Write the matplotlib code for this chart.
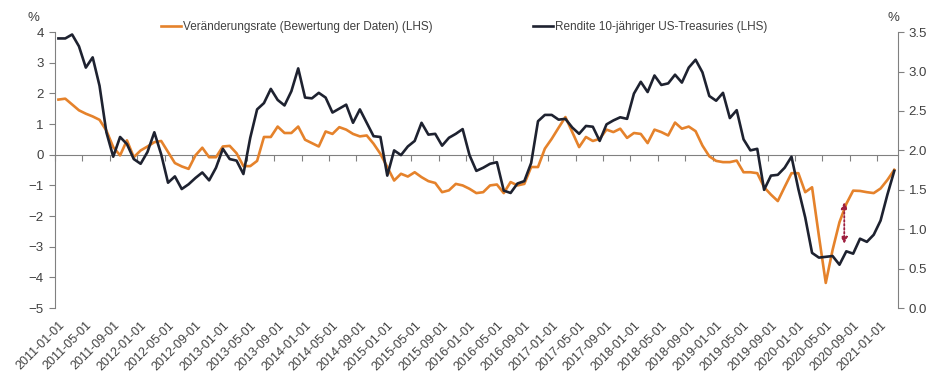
import matplotlib.pyplot as plt
import numpy as np
import pandas as pd
from matplotlib.ticker import FormatStrFormatter

# monthly categories 2011-01 .. 2021-03
months = pd.date_range('2011-01-01', '2021-03-01', freq='MS').strftime('%Y-%m-%d')

# Veränderungsrate (LHS, %)
rate = [1.80, 1.83, 1.64, 1.45, 1.34, 1.25, 1.14, 0.79, 0.25, -0.02,
        0.47, -0.08, 0.14, 0.27, 0.41, 0.45, 0.09, -0.27, -0.38, -0.46,
        -0.02, 0.23, -0.08, -0.08, 0.27, 0.29, 0.05, -0.37, -0.37, -0.20,
        0.58, 0.58, 0.92, 0.71, 0.71, 0.92, 0.49, 0.38, 0.27, 0.76,
        0.68, 0.90, 0.82, 0.68, 0.60, 0.63, 0.36, 0.03, -0.40, -0.84,
        -0.62, -0.71, -0.57, -0.73, -0.86, -0.92, -1.22, -1.16, -0.95, -1.00,
        -1.11, -1.25, -1.22, -1.00, -0.97, -1.25, -0.89, -1.00, -0.95, -0.40,
        -0.40, 0.20, 0.52, 0.88, 1.23, 0.74, 0.25, 0.58, 0.45, 0.52,
        0.82, 0.74, 0.85, 0.55, 0.71, 0.68, 0.38, 0.82, 0.74, 0.63,
        1.05, 0.85, 0.92, 0.77, 0.30, -0.05, -0.20, -0.24, -0.24, -0.19,
        -0.57, -0.57, -0.60, -1.06, -1.30, -1.51, -1.05, -0.60, -0.60, -1.22,
        -1.06, -2.65, -4.18, -3.10, -2.20, -1.60, -1.17, -1.18, -1.22, -1.25,
        -1.10, -0.82, -0.49]

# Rendite 10-jähriger US-Treasuries (plotted against right axis, %)
yields = [3.42, 3.42, 3.47, 3.32, 3.05, 3.18, 2.82, 2.23, 1.92, 2.17, 2.08, 1.89,
          1.83, 1.98, 2.23, 1.95, 1.59, 1.67, 1.51, 1.57, 1.65, 1.72, 1.62, 1.78,
          2.02, 1.89, 1.87, 1.70, 2.16, 2.52, 2.60, 2.78, 2.64, 2.57, 2.75, 3.04,
          2.67, 2.66, 2.73, 2.67, 2.48, 2.53, 2.58, 2.35, 2.52, 2.35, 2.18, 2.17,
          1.68, 2.00, 1.94, 2.05, 2.12, 2.35, 2.20, 2.21, 2.06, 2.16, 2.21, 2.27,
          1.94, 1.74, 1.78, 1.83, 1.85, 1.49, 1.46, 1.58, 1.61, 1.84, 2.37, 2.45,
          2.45, 2.39, 2.40, 2.29, 2.21, 2.31, 2.30, 2.12, 2.33, 2.38, 2.42, 2.40,
          2.72, 2.87, 2.74, 2.95, 2.83, 2.85, 2.96, 2.86, 3.05, 3.15, 2.99, 2.69,
          2.63, 2.73, 2.41, 2.51, 2.14, 2.00, 2.02, 1.50, 1.68, 1.69, 1.78, 1.92,
          1.51, 1.15, 0.70, 0.64, 0.65, 0.66, 0.55, 0.72, 0.69, 0.88, 0.84, 0.93,
          1.11, 1.44, 1.74]

labels = ['Veränderungsrate (Bewertung der Daten) (LHS)',
          'Rendite 10-jähriger US-Treasuries (LHS)']

# dotted marker arrow (left-axis units)
arrow_x, arrow_top, arrow_bottom = 114.7, -1.55, -2.9

orange = '#E5822B'
navy = '#1E2230'
gray = '#808080'
txt = '#404040'

plt.rcParams['font.family'] = ['Liberation Sans', 'DejaVu Sans']

x = np.arange(len(months))
fig = plt.figure(figsize=(9.4, 3.78), dpi=100)
ax = fig.add_axes([0.0585, 0.185, 0.8965, 0.730])
ax2 = ax.twinx()

l1, = ax.plot(x, rate, color=orange, lw=1.9)
l2, = ax2.plot(x, yields, color=navy, lw=1.9)

ax.set_xlim(-0.5, len(x) - 0.5)
ax.set_ylim(-5, 4)
ax2.set_ylim(0, 3.5)
ax.set_yticks(range(-5, 5))
ax2.set_yticks(np.arange(0, 3.6, 0.5))
ax2.yaxis.set_major_formatter(FormatStrFormatter('%.1f'))

ax.set_xticks(x[::4])
ax.set_xticklabels(months[::4], rotation=45, ha='right', rotation_mode='anchor')
ax.tick_params(axis='x', length=0, pad=8, labelsize=9, labelcolor=txt)
ax.tick_params(axis='y', direction='out', length=4, color=gray, labelsize=9.5, labelcolor=txt, pad=4)
ax2.tick_params(axis='y', direction='out', length=4, color=gray, labelsize=9.5, labelcolor=txt, pad=4)

for s in ['top', 'bottom', 'right']:
    ax.spines[s].set_visible(False)
for s in ['top', 'bottom', 'left']:
    ax2.spines[s].set_visible(False)
ax.spines['left'].set_color(gray)
ax2.spines['right'].set_color(gray)

# zero line with category tick marks
secax = ax.secondary_xaxis(5 / 9)
secax.set_xticks(np.arange(-0.5, len(x), 4), labels=[])
secax.tick_params(axis='x', direction='in', length=4, color=gray,
                  labeltop=False, labelbottom=False)
for s in ['top', 'bottom']:
    secax.spines[s].set_color(gray)

ax2.annotate('', xy=(arrow_x, arrow_top), xytext=(arrow_x, arrow_bottom),
             xycoords=ax.transData, textcoords=ax.transData,
             arrowprops=dict(arrowstyle='<|-|>', ls=(0, (1, 1.2)), color='#9E1F3F',
                             lw=1.3, mutation_scale=9, shrinkA=0, shrinkB=0))

fig.text(33 / 940, 1 - 18 / 378, '%', ha='center', va='center', fontsize=9.5, color=txt)
fig.text(893 / 940, 1 - 18 / 378, '%', ha='center', va='center', fontsize=9.5, color=txt)

fig.legend([l1, l2], labels, loc='center', bbox_to_anchor=(0.494, 0.929), ncol=2,
           frameon=False, handlelength=1.7, handletextpad=0.15, columnspacing=8.5,
           fontsize=8.5, labelcolor=txt)

fig.savefig('out.png', dpi=100)
